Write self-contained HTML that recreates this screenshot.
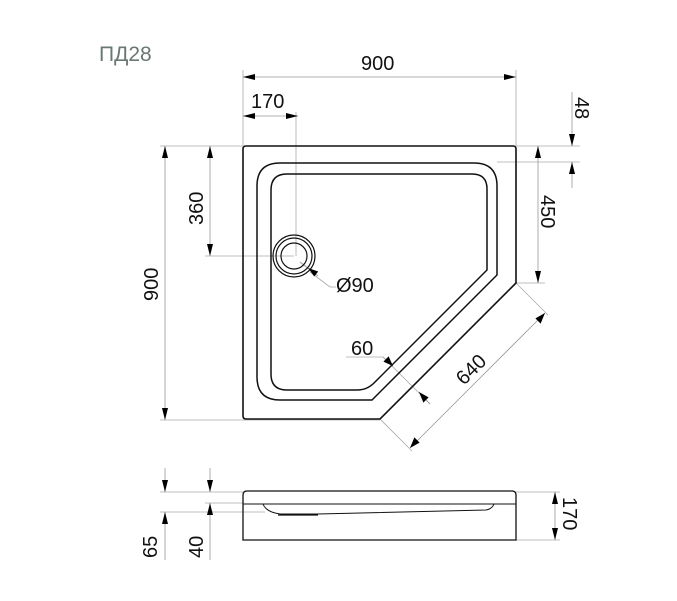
<!DOCTYPE html>
<html><head><meta charset="utf-8"><style>
html,body{margin:0;padding:0;background:#fff;}
svg{display:block;}
text{font-family:"Liberation Sans","Noto Sans CJK SC",sans-serif;font-size:20px;fill:#111;}
</style></head><body>
<svg width="677" height="601" viewBox="0 0 677 601" xmlns="http://www.w3.org/2000/svg">
<text x="99" y="61" style="fill:#6a7873;font-size:21px">ПД28</text>

<g stroke="#aaa" stroke-width="0.8" fill="none">
<line x1="243" y1="70" x2="243" y2="146"/>
<line x1="516" y1="70" x2="516" y2="146"/>
<line x1="296" y1="112" x2="296" y2="256"/>
<line x1="160" y1="146" x2="243" y2="146"/>
<line x1="160" y1="420" x2="380" y2="420"/>
<line x1="205" y1="256" x2="294" y2="256"/>
<line x1="516" y1="146" x2="580" y2="146"/>
<line x1="497" y1="162" x2="580" y2="162"/>
<line x1="516" y1="283" x2="545" y2="283"/>
<line x1="516" y1="283" x2="548" y2="315"/>
<line x1="380" y1="419" x2="412" y2="451"/>
<line x1="346" y1="357" x2="383" y2="357"/>
<line x1="383" y1="357" x2="430" y2="404"/>
<line x1="310" y1="272" x2="330" y2="287"/>
<line x1="330" y1="287" x2="336" y2="287"/>
<line x1="160" y1="492" x2="243" y2="492"/>
<line x1="205" y1="503" x2="243" y2="503"/>
<line x1="160" y1="512" x2="265" y2="512"/>
<line x1="516" y1="492" x2="560" y2="492"/>
<line x1="516" y1="540" x2="560" y2="540"/>
</g>

<g stroke="#999" stroke-width="0.8" fill="none">
<line x1="243" y1="77" x2="516" y2="77"/>
<line x1="243" y1="116" x2="298" y2="116"/>
<line x1="165" y1="146" x2="165" y2="420"/>
<line x1="210" y1="146" x2="210" y2="256"/>
<line x1="538" y1="146" x2="538" y2="283"/>
<line x1="572" y1="92" x2="572" y2="146"/>
<line x1="572" y1="188" x2="572" y2="162"/>
<line x1="545" y1="313" x2="410" y2="448"/>
<line x1="383" y1="357" x2="393" y2="366"/>
<line x1="430" y1="404" x2="419" y2="392"/>
<line x1="300" y1="262" x2="318" y2="276"/>
<line x1="165" y1="468" x2="165" y2="492"/>
<line x1="165" y1="560" x2="165" y2="512"/>
<line x1="210" y1="468" x2="210" y2="492"/>
<line x1="210" y1="560" x2="210" y2="503"/>
<line x1="555" y1="492" x2="555" y2="540"/>
</g>

<g fill="#000" stroke="none">
<polygon points="243,77 255,74 255,80"/>
<polygon points="516,77 504,74 504,80"/>
<polygon points="243,116 255,113 255,119"/>
<polygon points="298,116 286,113 286,119"/>
<polygon points="165,146 162,158 168,158"/>
<polygon points="165,420 162,408 168,408"/>
<polygon points="210,146 207,158 213,158"/>
<polygon points="210,256 207,244 213,244"/>
<polygon points="538,146 535,158 541,158"/>
<polygon points="538,283 535,271 541,271"/>
<polygon points="572,146 569,134 575,134"/>
<polygon points="572,162 569,174 575,174"/>
<polygon points="545,313 535.4,318.4 540.6,323.6"/>
<polygon points="410,448 414.4,437.4 419.6,442.6"/>
<polygon points="393,366 383.4,361.6 388.6,356.4"/>
<polygon points="419,392 423.4,402.6 428.6,397.4"/>
<polygon points="308,268 318.2,271.5 314.3,276.5"/>
<polygon points="165,492 162,480 168,480"/>
<polygon points="165,512 162,524 168,524"/>
<polygon points="210,492 207,480 213,480"/>
<polygon points="210,503 207,515 213,515"/>
<polygon points="555,492 552,504 558,504"/>
<polygon points="555,540 552,528 558,528"/>
</g>

<g stroke="#111" stroke-width="1.6" fill="none">
<path d="M246,146 H513 Q516,146 516,149 V283 L380,419 H246 Q243,419 243,416 V149 Q243,146 246,146 Z"/>
<path d="M280,163 H474 Q497,163 497,186 V275 L372,400 H280 Q257,400 257,377 V186 Q257,163 280,163 Z" stroke-width="1.5"/>
<path d="M287,174 H472 Q487,174 487,189 V270 L374,383 Q367,390 357,390 H287 Q271,390 271,374 V190 Q271,174 287,174 Z" stroke-width="1.5"/>
<circle cx="294" cy="256" r="21" stroke-width="1.2"/>
<circle cx="294" cy="256" r="18" stroke-width="1.2"/>
<circle cx="294" cy="256" r="13" stroke-width="1.2"/>
<path d="M243,540 V495 Q243,491 247,491 H512 Q516,491 516,495 V540 Z" stroke-width="1.3"/>
<line x1="243" y1="504" x2="516" y2="504" stroke-width="1.1"/>
<path d="M263,504 Q266,512 280,514 H318 L486,510 Q492,509 494,504" stroke-width="1"/>
<line x1="278" y1="515" x2="318" y2="515" stroke-width="1.3"/>
</g>

<text x="361" y="70">900</text>
<text x="251" y="108">170</text>
<text transform="translate(158,301) rotate(-90)">900</text>
<text transform="translate(203,225) rotate(-90)">360</text>
<text transform="translate(541,195) rotate(90)">450</text>
<text transform="translate(575,97) rotate(90)">48</text>
<text x="336" y="292">Ø90</text>
<text x="351" y="355">60</text>
<text transform="translate(464,386) rotate(-45)">640</text>
<text transform="translate(157,558) rotate(-90)">65</text>
<text transform="translate(203,558) rotate(-90)">40</text>
<text transform="translate(563,497) rotate(90)">170</text>
</svg>
</body></html>
